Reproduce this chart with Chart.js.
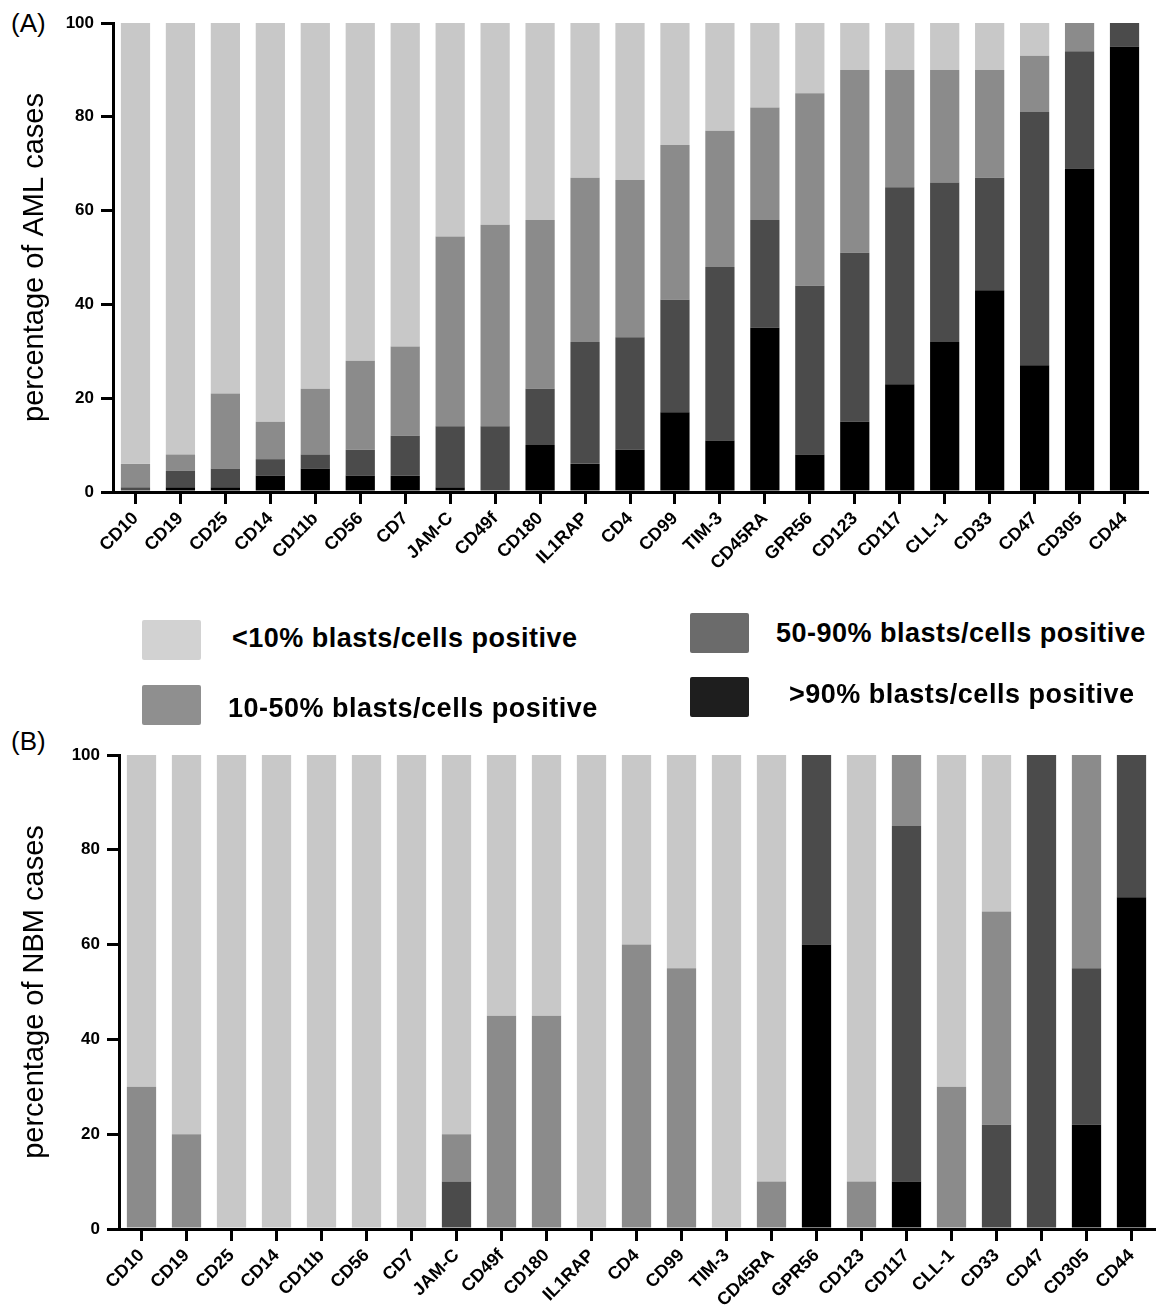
<!DOCTYPE html>
<html>
<head>
<meta charset="utf-8">
<script src="https://cdn.jsdelivr.net/npm/chart.js@4.4.1/dist/chart.umd.min.js"></script>
<style>
  html, body { margin: 0; padding: 0; background: #fff; }
  body { width: 1159px; height: 1314px; position: relative; overflow: hidden; font-family: 'Liberation Sans', Arial, sans-serif; }
  canvas { position: absolute; left: 0; }
  .panel { position: absolute; font-size: 26px; line-height: 30px; color: #000; }
  .sw { position: absolute; width: 59px; height: 40px; border-radius: 2px; }
  .lt { position: absolute; font-weight: bold; font-size: 27px; letter-spacing: 0.5px; line-height: 30px; color: #000; white-space: nowrap; }
</style>
</head>
<body>
<div class="panel" style="left:11px; top:8px;">(A)</div>
<div class="panel" style="left:11px; top:726px;">(B)</div>
<canvas id="chartA" width="1159" height="600" style="top:0"></canvas>
<canvas id="chartB" width="1159" height="594" style="top:720px"></canvas>

<div class="sw" style="left:142px; top:620px; background:#d2d2d2"></div>
<div class="lt" style="left:232px; top:623px;">&lt;10% blasts/cells positive</div>
<div class="sw" style="left:142px; top:685px; background:#8f8f8f"></div>
<div class="lt" style="left:228px; top:693px;">10-50% blasts/cells positive</div>
<div class="sw" style="left:690px; top:613px; background:#6b6b6b"></div>
<div class="lt" style="left:776px; top:618px;">50-90% blasts/cells positive</div>
<div class="sw" style="left:690px; top:677px; background:#1e1e1e"></div>
<div class="lt" style="left:789px; top:679px;">&gt;90% blasts/cells positive</div>

<script>
const markers = ['CD10', 'CD19', 'CD25', 'CD14', 'CD11b', 'CD56', 'CD7', 'JAM-C', 'CD49f', 'CD180', 'IL1RAP',
  'CD4', 'CD99', 'TIM-3', 'CD45RA', 'GPR56', 'CD123', 'CD117', 'CLL-1', 'CD33', 'CD47', 'CD305', 'CD44'];
const seriesNames = ['>90% blasts/cells positive', '50-90% blasts/cells positive', '10-50% blasts/cells positive', '<10% blasts/cells positive'];
const yTicks = [0, 20, 40, 60, 80, 100];

// AML cases (%), per marker
const amlOver90 = [0, 1, 1, 3.5, 5, 3.5, 3.5, 1, 0, 10, 6, 9, 17, 11, 35, 8, 15, 23, 32, 43, 27, 69, 95];
const aml50to90 = [1, 3.5, 4, 3.5, 3, 5.5, 8.5, 13, 14, 12, 26, 24, 24, 37, 23, 36, 36, 42, 34, 24, 54, 25, 5];
const aml10to50 = [5, 3.5, 16, 8, 14, 19, 19, 40.5, 43, 36, 35, 33.5, 33, 29, 24, 41, 39, 25, 24, 23, 12, 6, 0];
const amlUnder10 = [94, 92, 79, 85, 78, 72, 69, 45.5, 43, 42, 33, 33.5, 26, 23, 18, 15, 10, 10, 10, 10, 7, 0, 0];

// NBM cases (%), per marker
const nbmOver90 = [0, 0, 0, 0, 0, 0, 0, 0, 0, 0, 0, 0, 0, 0, 0, 60, 0, 10, 0, 0, 0, 22, 70];
const nbm50to90 = [0, 0, 0, 0, 0, 0, 0, 10, 0, 0, 0, 0, 0, 0, 0, 40, 0, 75, 0, 22, 100, 33, 30];
const nbm10to50 = [30, 20, 0, 0, 0, 0, 0, 10, 45, 45, 0, 60, 55, 0, 10, 0, 10, 15, 30, 45, 0, 45, 0];
const nbmUnder10 = [70, 80, 100, 100, 100, 100, 100, 80, 55, 55, 100, 40, 45, 100, 90, 0, 90, 0, 70, 33, 0, 0, 0];

const barColors = ['#000000', '#4b4b4b', '#8b8b8b', '#c8c8c8'];
const FONT = "'Liberation Sans', Arial, sans-serif";

function buildChart(canvasId, title, values, yWidth, xHeight, padding) {
    const ctx = document.getElementById(canvasId).getContext('2d');
    return new Chart(ctx, {
        type: 'bar',
        data: {
            labels: markers,
            datasets: values.map((v, i) => ({
                label: seriesNames[i],
                data: v,
                backgroundColor: barColors[i],
                borderWidth: 0,
                barPercentage: 0.65,
                categoryPercentage: 1.0
            }))
        },
        options: {
            responsive: false,
            animation: false,
            devicePixelRatio: 1,
            layout: { padding: padding },
            plugins: {
                legend: { display: false },
                tooltip: { enabled: false }
            },
            scales: {
                x: {
                    stacked: true,
                    grid: { drawOnChartArea: false, offset: false, color: '#000', lineWidth: 3, tickLength: 12 },
                    border: { color: '#000', width: 3 },
                    ticks: {
                        autoSkip: false, minRotation: 45, maxRotation: 45, padding: 4,
                        color: '#000', font: { family: FONT, size: 18, weight: 'bold' }
                    },
                    afterFit: (scale) => { scale.height = xHeight; }
                },
                y: {
                    stacked: true,
                    min: 0,
                    max: 100,
                    afterBuildTicks: (scale) => { scale.ticks = yTicks.map(v => ({ value: v })); },
                    grid: { drawOnChartArea: false, color: '#000', lineWidth: 3, tickLength: 12 },
                    border: { color: '#000', width: 3 },
                    ticks: { padding: 7, color: '#000', font: { family: FONT, size: 17, weight: 'bold' } },
                    title: {
                        display: true, text: title, color: '#000',
                        font: { family: FONT, size: 29, weight: 'normal' },
                        padding: { top: 18, bottom: 0 }
                    },
                    afterFit: (scale) => { scale.width = yWidth; }
                }
            }
        }
    });
}

buildChart('chartA', 'percentage of AML cases', [amlOver90, aml50to90, aml10to50, amlUnder10],
    113, 108, { top: 23, right: 12, left: 0, bottom: 0 });
buildChart('chartB', 'percentage of NBM cases', [nbmOver90, nbm50to90, nbm10to50, nbmUnder10],
    119, 85, { top: 35, right: 5, left: 0, bottom: 0 });
</script>
</body>
</html>
